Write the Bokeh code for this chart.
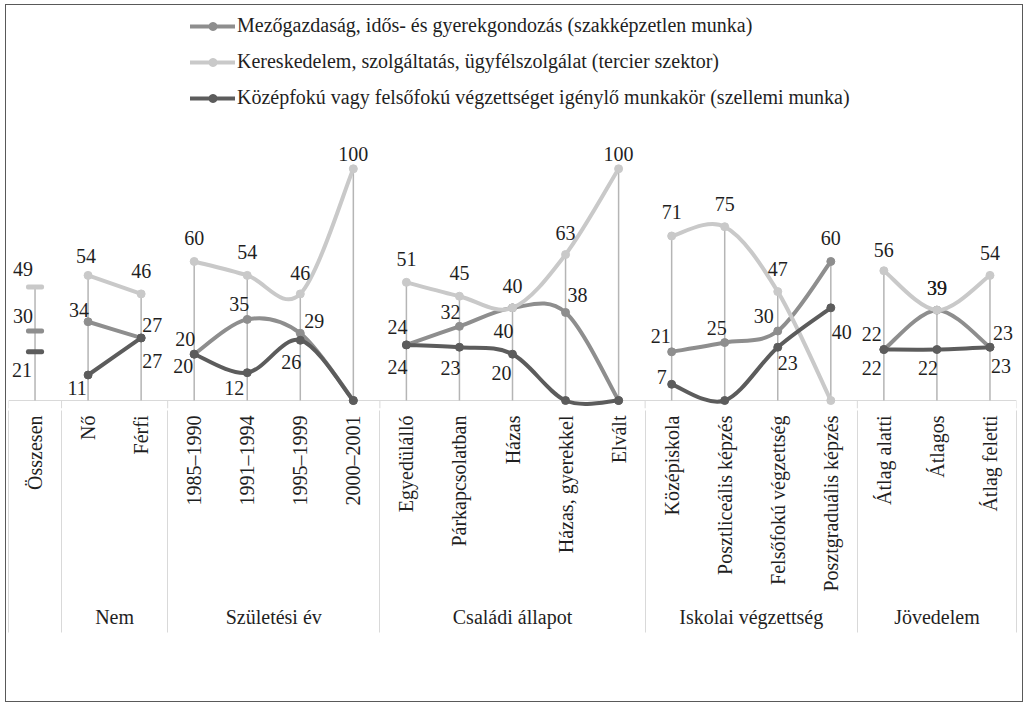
import numpy as np
from bokeh.plotting import figure
from bokeh.models import (Range1d, LinearAxis, FixedTicker, Legend, LegendItem,
                          ColumnDataSource, Span)
from bokeh.core.properties import value
from bokeh.embed import file_html
from bokeh.resources import INLINE

# ---------------- data ----------------
categories = ["Összesen", "Nő", "Férfi", "1985–1990", "1991–1994", "1995–1999", "2000–2001",
              "Egyedülálló", "Párkapcsolatban", "Házas", "Házas, gyerekkel", "Elvált",
              "Középiskola", "Posztliceális képzés", "Felsőfokú végzettség",
              "Posztgraduális képzés", "Átlag alatti", "Átlagos", "Átlag feletti"]
groups = ["", "Nem", "Születési év", "Családi állapot", "Iskolai végzettség", "Jövedelem"]
group_sizes = [1, 2, 4, 5, 4, 3]

series_names = ["Mezőgazdaság, idős- és gyerekgondozás (szakképzetlen munka)",
                "Kereskedelem, szolgáltatás, ügyfélszolgálat (tercier szektor)",
                "Középfokú vagy felsőfokú végzettséget igénylő munkakör (szellemi munka)"]
mezogazdasag = [30, 34, 27, 20, 35, 29, 0, 24, 32, 40, 38, 0, 21, 25, 30, 60, 22, 39, 23]
kereskedelem = [49, 54, 46, 60, 54, 46, 100, 51, 45, 40, 63, 100, 71, 75, 47, 0, 56, 39, 54]
kozepfoku = [21, 11, 27, 20, 12, 26, 0, 24, 23, 20, 0, 0, 7, 0, 23, 40, 22, 22, 23]

# ---------------- styles ----------------
colors = ["#8e8e8e", "#c9c9c9", "#5c5c5c"]
FONT_NAME = "Liberation Serif"
FONT = value(FONT_NAME)
FS = "20px"
TXT = "#1f1f1f"

# label offsets in screen px (dx, dy; dy downward)
lab_off = [
    [(-12, -15), (-9, -12), (11, -13), (-9, -15), (-8, -15), (14, -12), (0, 0),
     (-9, -18), (-9, -14), (-9, 23), (12, -17), (0, 0),
     (-11, -16), (-8, -15), (-14, -15), (0, -23), (-12, -16), (0, -22), (13, -14)],
    [(-12, -18), (-2, -19), (0, -23), (0, -23), (0, -23), (0, -21), (0, -15),
     (0, -23), (0, -23), (0, -22), (0, -22), (0, -15),
     (0, -24), (0, -23), (0, -23), (0, 0), (0, -21), (0, -22), (0, -22)],
    [(-13, 18), (-11, 13), (11, 23), (-11, 12), (-13, 15), (-9, 22), (0, 0),
     (-9, 22), (-9, 21), (-11, 19), (0, 0), (0, 0),
     (-10, -7), (0, 0), (10, 16), (11, 24), (-12, 18), (-9, 18), (11, 19)],
]

SCALE = 2.317  # px per unit
W, H = 1018, 698
BL, BT = 2, 4
FW, FH = 1008, 399
y_start = -8 / SCALE
y_end = (FH - 8) / SCALE
CAT_PANEL = 184   # expected height of the sub-category label band

p = figure(width=W, height=H, x_range=Range1d(-0.5, 18.5), y_range=Range1d(y_start, y_end),
           x_axis_type=None, y_axis_type=None, output_backend="svg", toolbar_location=None,
           min_border_left=BL, min_border_top=BT, min_border_right=W - BL - FW,
           min_border_bottom=H - BT - FH)
p.outline_line_color = None
p.grid.visible = False
p.background_fill_color = "white"
p.border_fill_color = "white"
p.styles = {"border": "1px solid #595959", "margin-left": "5px", "margin-top": "4px"}

n = len(categories)
xs = np.arange(n)
series = [mezogazdasag, kereskedelem, kozepfoku]

bounds = np.cumsum([0] + group_sizes)
group_ranges = [(bounds[i], bounds[i + 1]) for i in range(len(group_sizes))]
group_bounds = [float(b) - 0.5 for b in bounds]

# horizontal axis line at 0 and separator stubs down to frame bottom
p.add_layout(Span(location=0, dimension="width", line_color="#d9d9d9", line_width=1,
                  level="underlay"))
p.segment(x0=group_bounds, y0=[0] * len(group_bounds), x1=group_bounds,
          y1=[y_start] * len(group_bounds), line_color="#d9d9d9", line_width=1,
          level="underlay")

# drop lines
tops = [max(a, b, c) for a, b, c in zip(*series)]
p.segment(x0=xs, y0=[0] * n, x1=xs, y1=tops, line_color="#b5b5b5", line_width=1.5)


def bezier_segments(xv, yv):
    P = np.column_stack([xv, yv]).astype(float)
    m = len(P)
    segs = []
    for i in range(m - 1):
        p0 = P[i - 1] if i > 0 else P[i]
        p1, p2 = P[i], P[i + 1]
        p3 = P[i + 2] if i + 2 < m else P[i + 1]
        c0 = p1 + (p2 - p0) / 6.0
        c1 = p2 - (p3 - p1) / 6.0
        segs.append((p1[0], p1[1], p2[0], p2[1], c0[0], c0[1], c1[0], c1[1]))
    return segs


legend_items = []
for k, vals in enumerate(series):
    col = colors[k]
    segs = []
    for a, b in group_ranges:
        if b - a >= 2:
            segs += bezier_segments(xs[a:b], vals[a:b])
    segs = np.array(segs)
    br = p.bezier(x0=segs[:, 0], y0=segs[:, 1], x1=segs[:, 2], y1=segs[:, 3],
                  cx0=segs[:, 4], cy0=segs[:, 5], cx1=segs[:, 6], cy1=segs[:, 7],
                  line_color=col, line_width=4, line_cap="round")
    for a, b in group_ranges:
        if b - a == 1:
            p.rect(x=[xs[a]], y=[vals[a]], width=18, height=5, width_units="screen",
                   height_units="screen", fill_color=col, line_color=None, border_radius=2)
    multi = [i for a, b in group_ranges if b - a >= 2 for i in range(a, b)]
    sr = p.scatter(x=[xs[i] for i in multi], y=[vals[i] for i in multi], size=8,
                   fill_color=col, line_color=col, marker="circle")
    legend_items.append(LegendItem(label=series_names[k], renderers=[br, sr]))

# data labels
for k, vals in enumerate(series):
    idx = [i for i in range(n) if vals[i] > 0]
    src = ColumnDataSource(dict(
        x=[xs[i] for i in idx], y=[vals[i] for i in idx],
        t=[str(vals[i]) for i in idx],
        dx=[lab_off[k][i][0] for i in idx], dy=[lab_off[k][i][1] for i in idx]))
    p.text(x="x", y="y", text="t", x_offset="dx", y_offset="dy", source=src,
           text_font=FONT, text_font_size=FS, text_color=TXT,
           text_align="center", text_baseline="middle")

# category axis (sub-categories)
cat_axis = LinearAxis(ticker=FixedTicker(ticks=list(range(n)), minor_ticks=[]))
cat_axis.major_label_overrides = {i: c for i, c in enumerate(categories)}
cat_axis.major_label_orientation = np.pi / 2
cat_axis.major_label_text_font = FONT_NAME
cat_axis.major_label_text_font_size = FS
cat_axis.major_label_text_color = TXT
cat_axis.major_label_standoff = 7
cat_axis.major_tick_out = 0
cat_axis.major_tick_in = 0
cat_axis.minor_tick_line_color = None
cat_axis.major_tick_line_color = None
cat_axis.axis_line_color = None
p.add_layout(cat_axis, "below")

# group axis; group separators drawn as minor ticks reaching up to the plot
centers = [float(bounds[i] + bounds[i + 1] - 1) / 2 for i in range(len(groups))]
grp_axis = LinearAxis(ticker=FixedTicker(ticks=centers, minor_ticks=group_bounds))
grp_axis.major_label_overrides = {c: g for c, g in zip(centers, groups)}
grp_axis.major_label_text_font = FONT_NAME
grp_axis.major_label_text_font_size = FS
grp_axis.major_label_text_color = TXT
grp_axis.major_tick_line_color = None
grp_axis.major_tick_out = 0
grp_axis.major_tick_in = 0
grp_axis.minor_tick_line_color = "#d9d9d9"
grp_axis.minor_tick_line_width = 1
grp_axis.minor_tick_in = CAT_PANEL
grp_axis.minor_tick_out = 38
grp_axis.major_label_standoff = -27
grp_axis.axis_line_color = None
p.add_layout(grp_axis, "below")

legend = Legend(items=legend_items, location=(182, 299), padding=0, margin=0,
                border_line_color=None, background_fill_alpha=0, glyph_width=45,
                glyph_height=20, label_height=20, spacing=13, label_standoff=2,
                label_text_font=FONT_NAME, label_text_font_size=FS,
                label_text_color=TXT)
p.add_layout(legend)

open("out.html", "w").write(file_html(p, INLINE))
